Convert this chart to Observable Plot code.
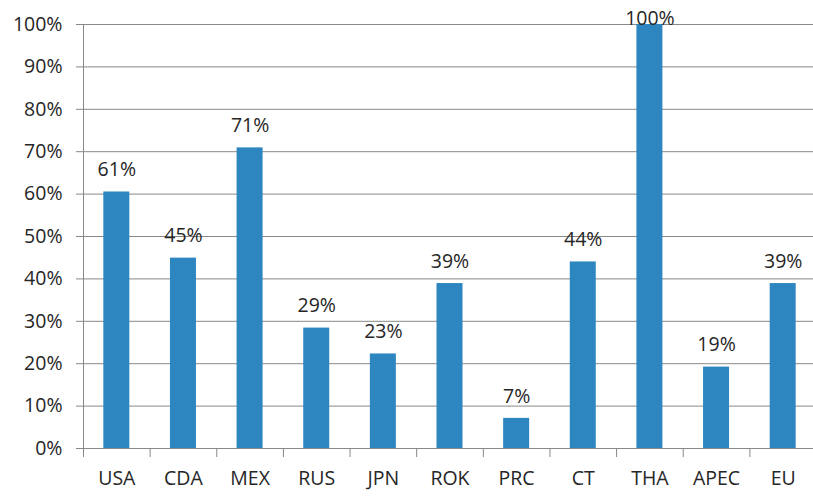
<!DOCTYPE html>
<html>
<head>
<meta charset="utf-8">
<script src="https://cdn.jsdelivr.net/npm/d3@7"></script>
<script src="https://cdn.jsdelivr.net/npm/@observablehq/plot@0.6"></script>
<style>
  html, body { margin: 0; padding: 0; background: #fff; }
  svg { display: block; }
</style>
</head>
<body>
<div id="chart"></div>
<script>
const categories = ["USA", "CDA", "MEX", "RUS", "JPN", "ROK", "PRC", "CT", "THA", "APEC", "EU"];
const values = [60.5, 44.9, 70.9, 28.4, 22.3, 38.9, 7.1, 44.0, 100, 19.2, 38.9];
const labels = ["61%", "45%", "71%", "29%", "23%", "39%", "7%", "44%", "100%", "19%", "39%"];
const yTicks = [0, 10, 20, 30, 40, 50, 60, 70, 80, 90, 100];

const data = categories.map((c, i) => ({cat: c, value: values[i], label: labels[i]}));

const W = 813, H = 496, mL = 83, xEnd = 816;
const step = (xEnd - mL) / categories.length;
const inset = (step - 26) / 2;
const font = "'Open Sans', sans-serif";
const txt = "#262626";
const fs = 19.5;

const chart = Plot.plot({
  width: W,
  height: H,
  marginLeft: mL,
  marginRight: 0,
  marginTop: 24,
  marginBottom: 48,
  style: {fontFamily: font, fontSize: fs + "px", color: txt, background: "#fff"},
  x: {domain: categories, padding: 0, round: false, range: [mL, xEnd], label: null},
  y: {domain: [0, 100], label: null},
  marks: [
    Plot.gridY(yTicks, {stroke: "#888", strokeOpacity: 1, strokeWidth: 1}),
    Plot.barY(data, {x: "cat", y: "value", fill: "#2e86c1", insetLeft: inset, insetRight: inset}),
    Plot.axisY(yTicks, {tickFormat: d => d + "%", tickSize: 7, tickPadding: 14, stroke: "#888", fill: txt, fontSize: fs}),
    Plot.axisX({tickSize: 0, tickPadding: 23, fill: txt, fontSize: fs}),
    Plot.axisX({tickSize: 9, tickFormat: () => "", dx: -step / 2, stroke: "#888", strokeWidth: 1}),
    Plot.frame({anchor: "left", stroke: "#888"}),
    Plot.text(data.filter(d => d.value < 95), {x: "cat", y: "value", text: "label", dy: -22, fill: txt, fontSize: fs, lineAnchor: "middle"}),
    Plot.text(data.filter(d => d.value >= 95), {x: "cat", y: "value", text: "label", dy: -6, fill: txt, fontSize: fs, lineAnchor: "middle"})
  ]
});
document.getElementById("chart").appendChild(chart);
</script>
</body>
</html>
